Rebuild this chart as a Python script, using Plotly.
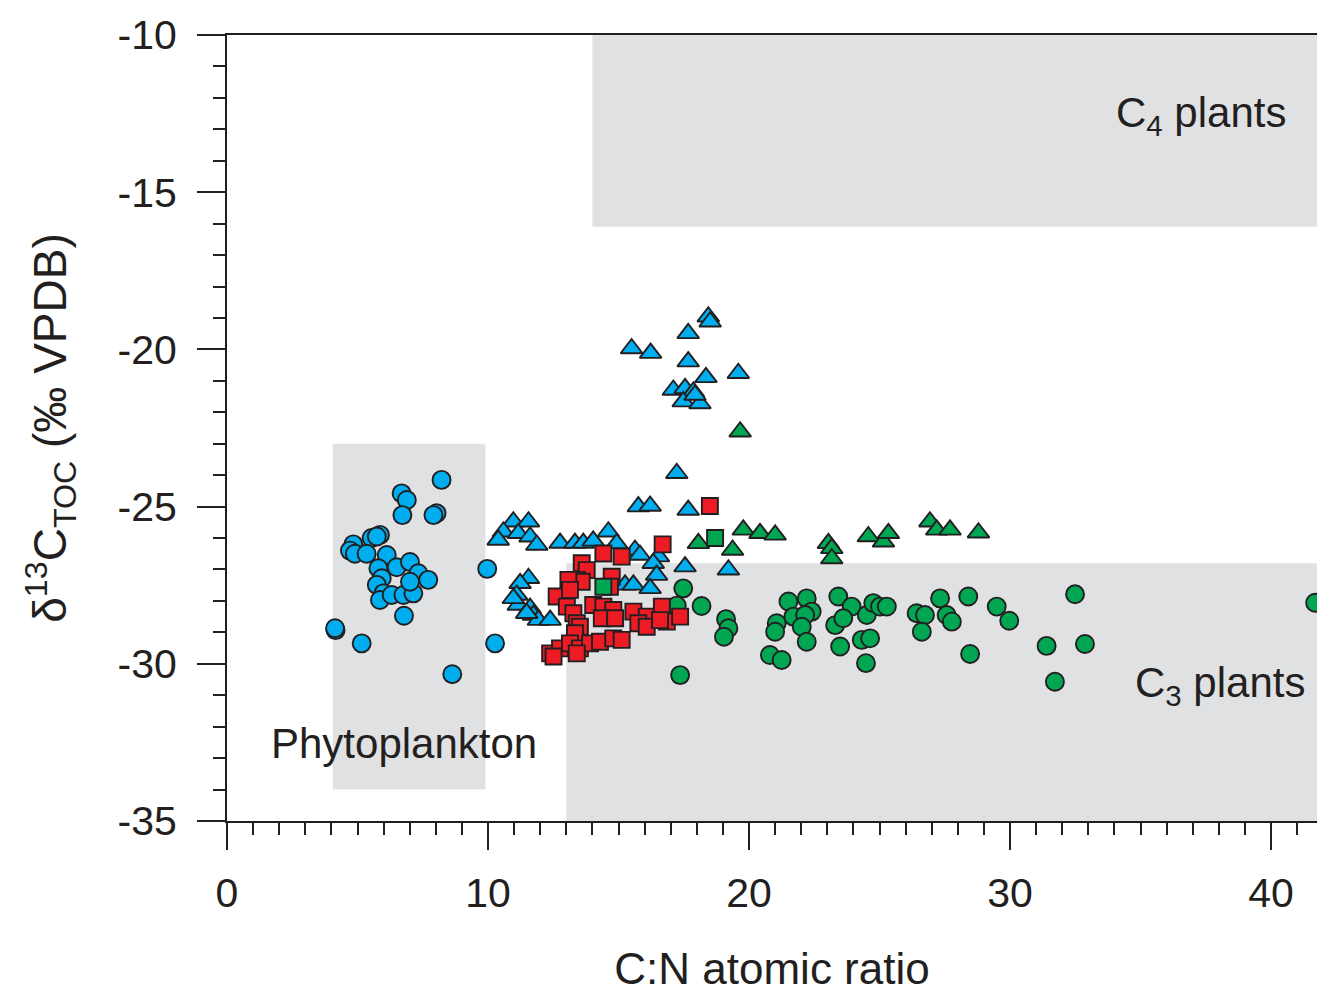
import plotly.graph_objects as go

# ---------------- data ----------------
blue_circ_x = [8.22, 6.69, 6.89, 6.72, 8.03, 7.91, 5.86, 5.54, 4.84, 4.71, 4.90, 5.35, 5.74,
               6.12, 5.80, 6.50, 7.01, 7.33, 7.71, 5.93, 5.74, 5.99, 5.86, 6.31, 6.76, 7.14,
               7.01, 6.78, 4.16, 4.14, 5.16, 9.97, 10.27, 8.63]
blue_circ_y = [-24.15, -24.58, -24.79, -25.27, -25.21, -25.27, -25.90, -26.00, -26.20, -26.40,
               -26.50, -26.50, -25.95, -26.54, -26.96, -26.93, -26.76, -27.12, -27.33, -27.28,
               -27.49, -27.76, -27.97, -27.81, -27.81, -27.76, -27.39, -28.47, -28.93, -28.87,
               -29.35, -26.98, -29.35, -30.33]

blue_tri_x = [18.44, 18.51, 17.67, 15.50, 16.23, 17.67, 18.35, 19.59, 17.10, 17.55, 17.87, 17.48,
              18.12, 17.93, 17.23, 15.76, 16.21, 17.67,
              10.97, 11.55, 10.59, 11.16, 11.61, 10.39, 11.87,
              12.76, 13.33, 13.65, 14.03, 14.61, 14.93, 15.63, 15.82, 16.53, 16.33, 16.46, 17.55, 19.21,
              15.25, 15.57, 16.21,
              11.55, 11.23, 11.10, 11.16, 11.61, 11.74, 11.93, 12.38, 10.97, 11.48]
blue_tri_y = [-18.96, -19.12, -19.49, -19.97, -20.12, -20.39, -20.89, -20.76, -21.29, -21.24, -21.35, -21.66,
              -21.72, -21.45, -23.94, -25.00, -24.98, -25.11,
              -25.48, -25.48, -25.80, -25.85, -25.96, -26.06, -26.22,
              -26.16, -26.16, -26.16, -26.09, -25.80, -26.17, -26.38, -26.54, -26.59, -26.80, -27.18, -26.91, -27.01,
              -27.49, -27.49, -27.60,
              -27.28, -27.44, -27.81, -28.13, -28.23, -28.45, -28.61, -28.61, -27.92, -28.39]

red_sq_x = [18.50, 16.69, 14.42, 15.12, 13.59, 13.78, 13.40, 13.59, 14.74, 14.67, 13.08, 12.63, 13.02,
            13.27, 13.14, 13.40, 13.52, 13.33, 14.03, 14.42, 14.80, 14.36, 14.87, 15.57, 16.08, 15.76,
            16.08, 16.66, 16.85, 17.36, 16.59, 12.38, 12.76, 13.14, 13.52, 13.91, 14.29, 14.80, 15.12,
            12.51, 13.40]
red_sq_y = [-24.98, -26.20, -26.49, -26.59, -26.80, -27.02, -27.33, -27.39, -27.23, -27.55, -27.33, -27.86, -28.18,
            -28.39, -27.65, -28.71, -28.82, -29.03, -28.13, -28.18, -28.29, -28.55, -28.55, -28.34, -28.50, -28.71,
            -28.82, -28.18, -28.66, -28.50, -28.61, -29.67, -29.51, -29.35, -29.51, -29.35, -29.30, -29.19, -29.24,
            -29.77, -29.67]

green_sq_x = [14.42, 18.70]
green_sq_y = [-27.55, -26.00]

green_tri_x = [19.66, 19.78, 20.42, 21.00, 18.06, 19.37, 23.04, 23.17, 23.17, 24.57, 25.15, 25.34,
               26.93, 27.19, 27.70, 28.79]
green_tri_y = [-22.62, -25.74, -25.85, -25.90, -26.17, -26.38, -26.17, -26.33, -26.65, -25.95, -26.12, -25.85,
               -25.48, -25.74, -25.74, -25.83]

green_circ_x = [17.48, 17.23, 18.18, 19.12, 19.21, 19.04, 17.36, 21.51, 22.21, 22.40, 21.70, 22.15, 21.06,
                21.00, 22.02, 22.21, 20.80, 21.25, 23.42, 23.93, 24.51, 23.30, 23.61, 24.76, 25.02, 25.28,
                23.49, 24.32, 24.64, 24.48, 26.42, 26.74, 26.62, 27.32, 27.57, 27.77, 28.40, 28.47, 29.49,
                29.97, 32.49, 31.40, 32.87, 31.72, 41.69]
green_circ_y = [-27.60, -28.15, -28.16, -28.58, -28.87, -29.14, -30.36, -28.02, -27.92, -28.34, -28.50, -28.45, -28.71,
                -28.98, -28.82, -29.30, -29.72, -29.88, -27.86, -28.18, -28.45, -28.77, -28.55, -28.07, -28.18, -28.18,
                -29.45, -29.24, -29.19, -29.98, -28.39, -28.45, -28.98, -27.92, -28.45, -28.66, -27.86, -29.69, -28.18,
                -28.63, -27.79, -29.43, -29.37, -30.57, -28.06]

# source fields (x0, x1, y0, y1)
c4_box = (14.0, 60.0, -16.1, -10.0)
c3_box = (13.0, 60.0, -35.0, -26.8)
phyto_box = (4.05, 9.9, -34.0, -23.0)

x_ticks = [0, 10, 20, 30, 40]
x_tick_labels = ["0", "10", "20", "30", "40"]
y_ticks = [-35, -30, -25, -20, -15, -10]
y_tick_labels = ["-35", "-30", "-25", "-20", "-15", "-10"]

# ---------------- styling ----------------
BLUE = "#00aeef"
RED = "#ed1c24"
GREEN = "#00a651"
EDGE = "#231f20"
FIELD = "#e0e1e3"
FONT = "Liberation Sans, Arial, sans-serif"

fig = go.Figure()

def add(x, y, symbol, color, size):
    fig.add_trace(go.Scatter(
        x=x, y=y, mode="markers", showlegend=False,
        marker=dict(symbol=symbol, color=color, size=size,
                    line=dict(color=EDGE, width=1.9)),
    ))

add(blue_circ_x, blue_circ_y, "circle", BLUE, 18)
add(blue_tri_x, blue_tri_y, "triangle-up", BLUE, 19)
add(green_circ_x, green_circ_y, "circle", GREEN, 18)
add(green_tri_x, green_tri_y, "triangle-up", GREEN, 19)
add(red_sq_x, red_sq_y, "square", RED, 16)
add(green_sq_x, green_sq_y, "square", GREEN, 16)

for (x0, x1, y0, y1) in (c4_box, c3_box, phyto_box):
    fig.add_shape(type="rect", x0=x0, x1=x1, y0=y0, y1=y1, xref="x", yref="y",
                  fillcolor=FIELD, line=dict(width=0), layer="below")

ann_font = dict(family=FONT, size=42, color=EDGE)
fig.add_annotation(x=37.3, y=-12.55, text="C<sub>4</sub> plants", showarrow=False, font=ann_font)
fig.add_annotation(x=38.05, y=-30.7, text="C<sub>3</sub> plants", showarrow=False, font=ann_font)
fig.add_annotation(x=6.78, y=-32.55, text="Phytoplankton", showarrow=False, font=ann_font)

fig.update_layout(
    width=1317, height=994,
    margin=dict(l=227, r=0, t=35, b=173),
    paper_bgcolor="white", plot_bgcolor="white",
    font=dict(family=FONT, color=EDGE),
    xaxis=dict(
        range=[0, 41.76], tickvals=x_ticks, ticktext=x_tick_labels, ticks="outside", ticklen=27, tickwidth=2,
        tickcolor=EDGE, showline=True, linecolor=EDGE, linewidth=2, mirror=True,
        showgrid=False, zeroline=False, tickfont=dict(size=41, color=EDGE),
        ticklabelstandoff=8,
        minor=dict(dtick=1, ticks="outside", ticklen=12, tickwidth=2, tickcolor=EDGE, showgrid=False),
        title=dict(text="C:N atomic ratio", font=dict(size=44, color=EDGE), standoff=38),
    ),
    yaxis=dict(
        range=[-35, -10], tickvals=y_ticks, ticktext=y_tick_labels, ticks="outside", ticklen=28, tickwidth=2,
        tickcolor=EDGE, showline=True, linecolor=EDGE, linewidth=2,
        showgrid=False, zeroline=False, tickfont=dict(size=41, color=EDGE),
        ticklabelstandoff=12,
        minor=dict(dtick=1, ticks="outside", ticklen=12, tickwidth=2, tickcolor=EDGE, showgrid=False),
        title=dict(text="δ<sup>13</sup>C<sub>TOC</sub> (‰ VPDB)", font=dict(size=46, color=EDGE), standoff=36),
    ),
)

fig.write_html("out.html")
